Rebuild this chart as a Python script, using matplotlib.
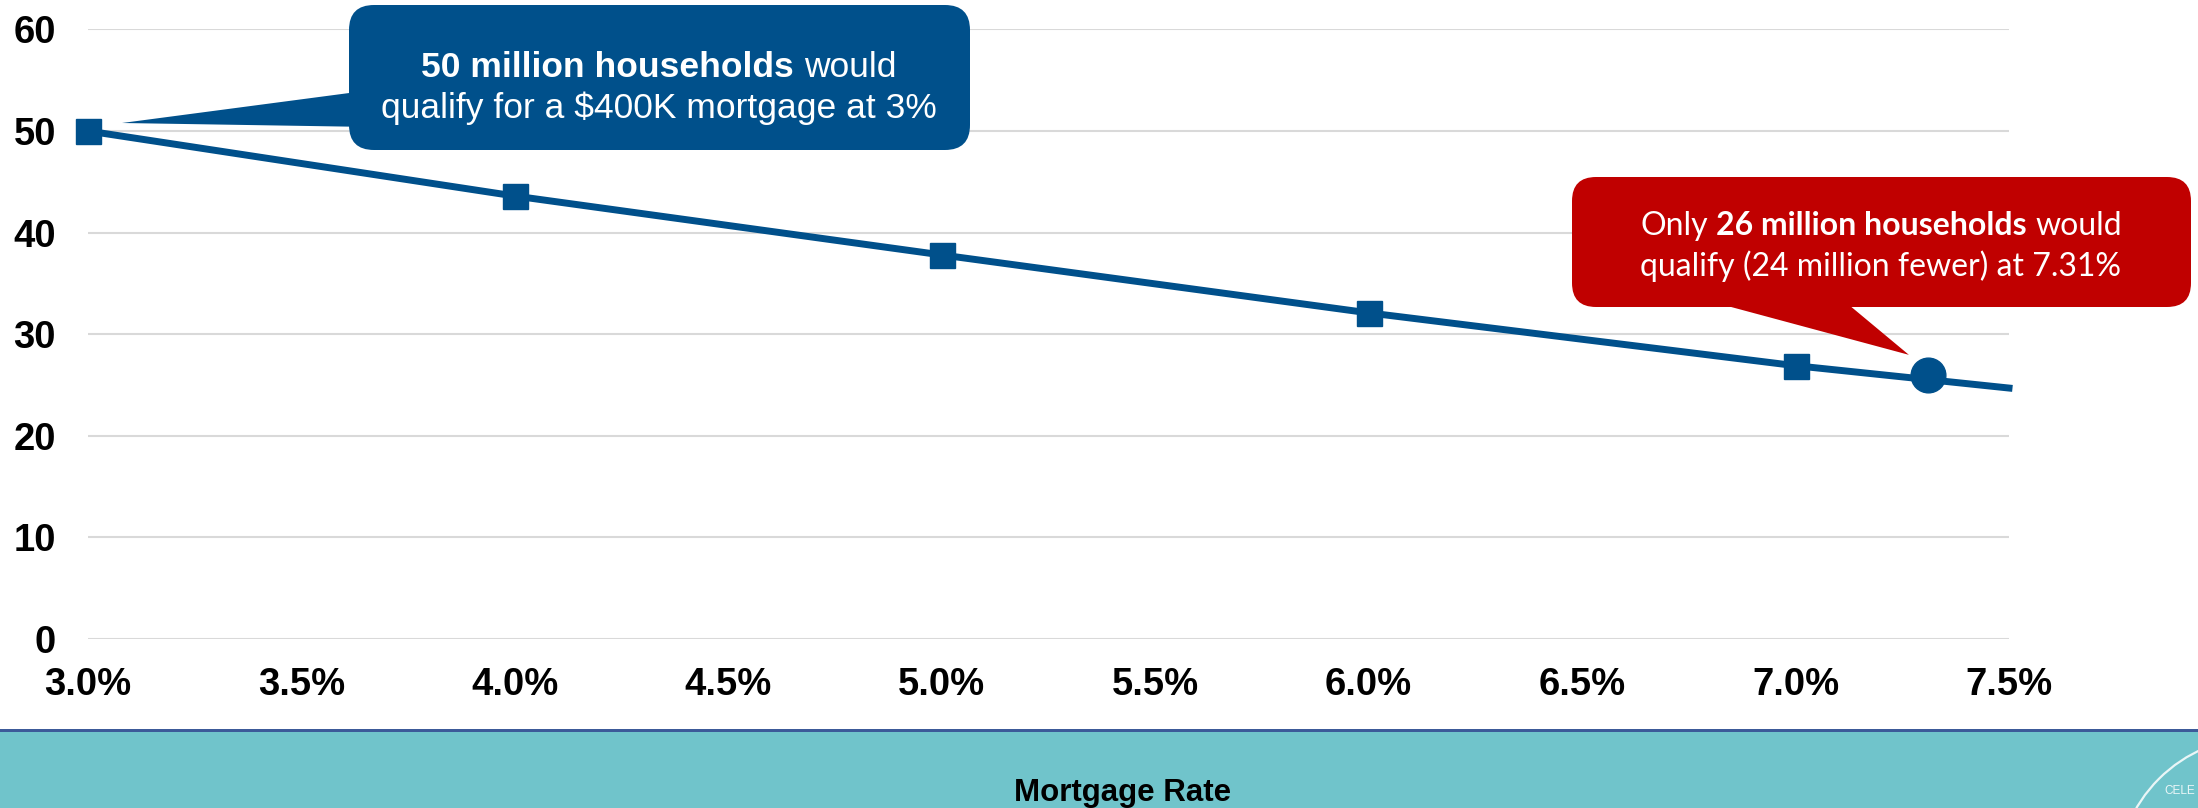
import matplotlib
matplotlib.use("Agg")
import matplotlib.pyplot as plt
from matplotlib.patches import FancyBboxPatch, Polygon, Rectangle, Circle
from matplotlib.transforms import IdentityTransform

# ---- data -------------------------------------------------------------
rates = [3.0, 4.0, 5.0, 6.0, 7.0, 7.5]            # mortgage rate, %
households = [50.0, 43.6, 37.8, 32.1, 26.9, 24.7]  # qualifying households, millions
current_rate = 7.31
current_households = 26.0

x_ticks = [3.0, 3.5, 4.0, 4.5, 5.0, 5.5, 6.0, 6.5, 7.0, 7.5]
x_tick_labels = ["3.0%", "3.5%", "4.0%", "4.5%", "5.0%", "5.5%",
                 "6.0%", "6.5%", "7.0%", "7.5%"]
y_ticks = [0, 10, 20, 30, 40, 50, 60]
y_tick_labels = ["0", "10", "20", "30", "40", "50", "60"]

x_title = "Mortgage Rate"
note_low = [[("50 million households", "bold"), ("would", "normal")],
            [("qualify for a $400K mortgage at 3%", "normal")]]
note_now = [[("Only", "normal"), ("26 million households", "bold"), ("would", "normal")],
            [("qualify (24 million fewer) at 7.31%", "normal")]]

# ---- style ------------------------------------------------------------
BLUE = "#00508B"
RED = "#C00000"
TEAL = "#70C4CB"
GRID = "#D9D9D9"
W, H, DPI = 2198, 808, 100

fig = plt.figure(figsize=(W / DPI, H / DPI), dpi=DPI)
ax = fig.add_axes([88 / W, (H - 639) / H, (2009 - 88) / W, (639 - 29.4) / H])
ax.set_xlim(3.0, 7.5)
ax.set_ylim(0, 60)

for s in ax.spines.values():
    s.set_visible(False)
ax.set_yticks(y_ticks)
ax.set_yticklabels(y_tick_labels)
ax.set_xticks(x_ticks)
ax.set_xticklabels(x_tick_labels)
ax.tick_params(axis="both", length=0, labelsize=27.5)
ax.tick_params(axis="y", pad=23)
ax.tick_params(axis="x", pad=20)
for lab in ax.get_xticklabels() + ax.get_yticklabels():
    lab.set_fontweight("bold")
    lab.set_family("Liberation Sans")
ax.yaxis.grid(True, color=GRID, lw=1.5)
ax.set_axisbelow(True)

ax.plot(rates, households, color=BLUE, lw=5, marker="s", ms=18,
        markevery=list(range(len(rates) - 1)), clip_on=False, zorder=3)
ax.plot([current_rate], [current_households], "o", color=BLUE, ms=25,
        clip_on=False, zorder=4)

ident = IdentityTransform()


def top(y):
    return H - y


def callout(box, tip, base, color, radius):
    x0, y0, x1, y1 = box
    fig.add_artist(FancyBboxPatch((x0, top(y1)), x1 - x0, y1 - y0,
                                  boxstyle=f"round,pad=0,rounding_size={radius}",
                                  transform=ident, fc=color, ec="none", zorder=5))
    fig.add_artist(Polygon([tip, (base[0][0], top(base[0][1])), (base[1][0], top(base[1][1]))],
                           closed=True, transform=ident, fc=color, ec="none", zorder=5))


renderer = fig.canvas.get_renderer()


def rich_line(cx, baseline, runs, size, family):
    texts, widths = [], []
    for s, w in runs:
        t = fig.text(0, 0, s, fontsize=size, fontweight=w, family=family,
                     color="white", transform=ident, ha="left", va="baseline", zorder=6)
        texts.append(t)
        widths.append(t.get_window_extent(renderer).width)
    probe_a = fig.text(0, 0, "n n", fontsize=size, family=family, transform=ident)
    probe_b = fig.text(0, 0, "nn", fontsize=size, family=family, transform=ident)
    gap = probe_a.get_window_extent(renderer).width - probe_b.get_window_extent(renderer).width
    probe_a.remove()
    probe_b.remove()
    total = sum(widths) + gap * (len(runs) - 1)
    x = cx - total / 2
    for t, w in zip(texts, widths):
        t.set_position((x, top(baseline)))
        x += w + gap


# callout for the 3% point
px, py = ax.transData.transform((rates[0], households[0]))
callout((349, 5, 970, 150), (px + 34, py + 8), [(372, 90), (372, 127)], BLUE, 25)
rich_line(659, 77, note_low[0], 25.5, "Liberation Sans")
rich_line(659, 118, note_low[1], 25.5, "Liberation Sans")

# callout for the current rate
cx_, cy_ = ax.transData.transform((current_rate, current_households))
callout((1572, 177, 2191, 307), (cx_ - 19, cy_ + 20), [(1668, 290), (1831, 290)], RED, 24)
rich_line(1881, 235, note_now[0], 23, "Lato")
rich_line(1881, 276, note_now[1], 23, "Lato")

# footer band with axis title
fig.add_artist(Rectangle((0, 0), W, H - 730, transform=ident, fc=TEAL, ec="none", zorder=1))
fig.add_artist(Rectangle((0, top(731.5)), W, 3, transform=ident, fc="#3C5A99", ec="none", zorder=2))
fig.text(1123, top(801), x_title, transform=ident, ha="center", va="baseline",
         fontsize=22.5, fontweight="bold", family="Liberation Sans", color="black", zorder=3)

# logo fragment in the corner
fig.add_artist(Circle((2260, top(880)), 143, transform=ident, fill=False,
                      ec="#EAF6F7", lw=1.6, zorder=2))
fig.text(2164, top(794), "CELE", transform=ident, ha="left", va="baseline",
         fontsize=8.5, family="Liberation Sans", color="#EAF6F7", zorder=3)

fig.savefig("out.png", dpi=DPI)
